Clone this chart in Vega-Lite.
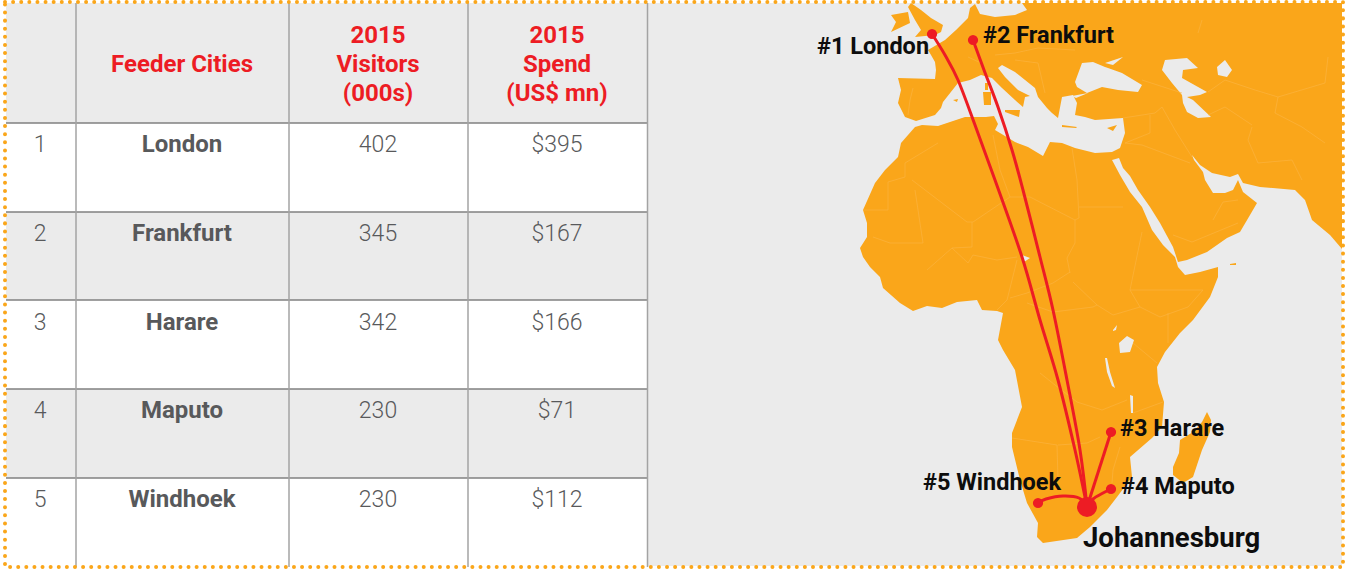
{
"$schema":"https://vega.github.io/schema/vega-lite/v6.json",
"width":1345,"height":569,"padding":0,"autosize":{"type":"none"},"background":"white",
"config":{"view":{"stroke":null},"text":{"font":"Roboto","lineBreak":"\n"}},
"datasets":{
"cells":[
{"row":0,"col":2,"label":"Feeder Cities"},{"row":0,"col":3,"label":"2015\nVisitors\n(000s)"},{"row":0,"col":4,"label":"2015\nSpend\n(US$ mn)"},
{"row":1,"col":1,"label":"1"},{"row":1,"col":2,"label":"London"},{"row":1,"col":3,"label":"402"},{"row":1,"col":4,"label":"$395"},
{"row":2,"col":1,"label":"2"},{"row":2,"col":2,"label":"Frankfurt"},{"row":2,"col":3,"label":"345"},{"row":2,"col":4,"label":"$167"},
{"row":3,"col":1,"label":"3"},{"row":3,"col":2,"label":"Harare"},{"row":3,"col":3,"label":"342"},{"row":3,"col":4,"label":"$166"},
{"row":4,"col":1,"label":"4"},{"row":4,"col":2,"label":"Maputo"},{"row":4,"col":3,"label":"230"},{"row":4,"col":4,"label":"$71"},
{"row":5,"col":1,"label":"5"},{"row":5,"col":2,"label":"Windhoek"},{"row":5,"col":3,"label":"230"},{"row":5,"col":4,"label":"$112"}
],
"routes":[
{"route":"London","seq":1,"lon":932,"lat":34},{"route":"London","seq":2,"lon":945,"lat":55},{"route":"London","seq":3,"lon":958,"lat":80},{"route":"London","seq":4,"lon":975,"lat":125},{"route":"London","seq":5,"lon":995,"lat":180},{"route":"London","seq":6,"lon":1022,"lat":257},{"route":"London","seq":7,"lon":1040,"lat":320},{"route":"London","seq":8,"lon":1058,"lat":380},{"route":"London","seq":9,"lon":1075,"lat":450},{"route":"London","seq":10,"lon":1087,"lat":507},
{"route":"Frankfurt","seq":1,"lon":973,"lat":40},{"route":"Frankfurt","seq":2,"lon":984,"lat":70},{"route":"Frankfurt","seq":3,"lon":998,"lat":107},{"route":"Frankfurt","seq":4,"lon":1012,"lat":150},{"route":"Frankfurt","seq":5,"lon":1023,"lat":190},{"route":"Frankfurt","seq":6,"lon":1040,"lat":257},{"route":"Frankfurt","seq":7,"lon":1053,"lat":310},{"route":"Frankfurt","seq":8,"lon":1067,"lat":380},{"route":"Frankfurt","seq":9,"lon":1080,"lat":450},{"route":"Frankfurt","seq":10,"lon":1087,"lat":507},
{"route":"Harare","seq":1,"lon":1111,"lat":432},{"route":"Harare","seq":2,"lon":1087,"lat":507},
{"route":"Maputo","seq":1,"lon":1111,"lat":489},{"route":"Maputo","seq":2,"lon":1103,"lat":493},{"route":"Maputo","seq":3,"lon":1093,"lat":499},{"route":"Maputo","seq":4,"lon":1087,"lat":507},
{"route":"Windhoek","seq":1,"lon":1038,"lat":503},{"route":"Windhoek","seq":2,"lon":1046,"lat":499},{"route":"Windhoek","seq":3,"lon":1063,"lat":496},{"route":"Windhoek","seq":4,"lon":1079,"lat":498},{"route":"Windhoek","seq":5,"lon":1087,"lat":507}
],
"cities":[
{"name":"London","lon":932,"lat":34,"hub":"no"},{"name":"Frankfurt","lon":973,"lat":40,"hub":"no"},{"name":"Harare","lon":1111,"lat":432,"hub":"no"},{"name":"Maputo","lon":1111,"lat":489,"hub":"no"},{"name":"Windhoek","lon":1038,"lat":503,"hub":"no"},{"name":"Johannesburg","lon":1087,"lat":507,"hub":"yes"}
],
"labels":[
{"label":"#1 London","lon":817,"lat":47},{"label":"#2 Frankfurt","lon":983,"lat":36},{"label":"#3 Harare","lon":1120,"lat":429},{"label":"#4 Maputo","lon":1121,"lat":487},{"label":"#5 Windhoek","lon":923,"lat":483}
]
},
"layer":[
{"data":{"values":[{"y0":3,"y1":123},{"y0":212,"y1":300},{"y0":389,"y1":478}]},
 "mark":{"type":"rect","fill":"#ebebeb"},
 "encoding":{"x":{"datum":6,"type":"quantitative","scale":{"domain":[0,1345]},"axis":null},"x2":{"datum":648},"y":{"field":"y0","type":"quantitative","scale":{"domain":[569,0]},"axis":null},"y2":{"field":"y1"}}},
{"data":{"values":[{"y0":3,"y1":566}]},
 "mark":{"type":"rect","fill":"#ebebeb"},
 "encoding":{"x":{"datum":648,"type":"quantitative","scale":{"domain":[0,1345]},"axis":null},"x2":{"datum":1342},"y":{"field":"y0","type":"quantitative","scale":{"domain":[569,0]},"axis":null},"y2":{"field":"y1"}}},
{"data":{"values":[{"y":123},{"y":212},{"y":300},{"y":389},{"y":478}]},
 "mark":{"type":"rule","stroke":"#808080","strokeWidth":1.5},
 "encoding":{"x":{"datum":6,"type":"quantitative","scale":{"domain":[0,1345]},"axis":null},"x2":{"datum":648},"y":{"field":"y","type":"quantitative","scale":{"domain":[569,0]},"axis":null}}},
{"data":{"values":[{"x":76},{"x":289},{"x":468},{"x":647.5}]},
 "mark":{"type":"rule","stroke":"#a3a3a3","strokeWidth":1.5},
 "encoding":{"x":{"field":"x","type":"quantitative","scale":{"domain":[0,1345]},"axis":null},"y":{"datum":3,"type":"quantitative","scale":{"domain":[569,0]},"axis":null},"y2":{"datum":567}}},
{"data":{"name":"land","values":[
{"type":"Feature","properties":{"kind":"land"},"geometry":{"type":"MultiPolygon","coordinates":[
[[[1342,3],[1342,249],[1330,235],[1312,220],[1305,200],[1295,190],[1260,187],[1243,183],[1238,174],[1230,177],[1212,173],[1200,165],[1192,155],[1194,160],[1203,172],[1205,180],[1213,193],[1225,193],[1233,190],[1238,180],[1243,192],[1257,203],[1250,215],[1240,232],[1227,238],[1207,252],[1187,260],[1178,262],[1173,247],[1160,223],[1150,207],[1138,190],[1130,176],[1123,168],[1119,158],[1112,160],[1120,175],[1130,192],[1142,207],[1152,230],[1163,245],[1175,257],[1178,267],[1185,275],[1200,272],[1218,267],[1218,277],[1210,297],[1193,320],[1180,333],[1165,352],[1157,367],[1158,383],[1164,402],[1162,427],[1152,438],[1130,457],[1132,477],[1117,497],[1107,510],[1090,527],[1077,538],[1043,543],[1037,537],[1038,523],[1027,503],[1020,480],[1012,447],[1012,433],[1022,407],[1015,370],[1003,350],[998,340],[1003,313],[997,311],[982,310],[977,300],[957,302],[942,308],[927,306],[913,311],[900,303],[883,288],[880,277],[870,267],[863,257],[860,248],[867,237],[867,223],[863,210],[875,183],[885,170],[898,157],[901,143],[915,127],[922,125],[938,126],[965,117],[986,117],[994,116],[998,124],[995,130],[1015,142],[1028,147],[1043,156],[1050,142],[1062,143],[1075,148],[1095,153],[1112,152],[1120,148],[1125,133],[1123,118],[1095,120],[1085,117],[1075,115],[1077,103],[1073,95],[1062,97],[1058,118],[1052,113],[1047,108],[1038,97],[1035,88],[1015,72],[1002,65],[998,68],[1005,77],[1018,90],[1030,96],[1025,97],[1023,107],[1015,100],[1002,88],[992,78],[981,75],[970,80],[958,83],[943,102],[941,108],[935,115],[916,121],[905,117],[898,103],[901,90],[898,78],[935,79],[936,70],[935,62],[931,55],[928,50],[945,40],[956,30],[968,18],[970,8],[975,4],[980,14],[995,17],[1015,15],[1027,10],[1022,3],[1342,3]]],
[[[908,7],[911,3],[921,10],[931,18],[943,25],[941,32],[935,35],[915,37],[921,30],[915,20],[908,7]]],
[[[891,15],[908,12],[910,23],[891,32],[896,22],[891,15]]],
[[[983,92],[991,92],[991,105],[984,105],[983,92]]],
[[[985,83],[988,83],[988,90],[985,90],[985,83]]],
[[[1005,110],[1020,110],[1019,117],[1005,112],[1005,110]]],
[[[1107,128],[1117,125],[1113,131],[1107,128]]],
[[[1062,125],[1077,127],[1076,128],[1062,127],[1062,125]]],
[[[953,100],[958,99],[957,102],[953,100]]],
[[[1207,412],[1211,420],[1210,432],[1202,450],[1193,477],[1183,483],[1173,475],[1173,467],[1179,453],[1180,440],[1193,432],[1202,422],[1207,412]]],
[[[1230,264],[1236,263],[1236,265],[1230,265],[1230,264]]]
]}},
{"type":"Feature","properties":{"kind":"water"},"geometry":{"type":"MultiPolygon","coordinates":[
[[[1075,82],[1082,63],[1093,62],[1105,67],[1108,68],[1122,73],[1142,85],[1138,92],[1118,90],[1102,87],[1087,93],[1077,87],[1075,82]]],
[[[1105,63],[1123,57],[1113,65],[1105,63]]],
[[[1072,96],[1088,93],[1076,98],[1072,96]]],
[[[1162,70],[1165,60],[1187,58],[1198,68],[1183,70],[1182,78],[1207,92],[1200,95],[1187,97],[1193,100],[1211,117],[1198,118],[1187,112],[1183,103],[1182,95],[1172,83],[1162,70]]],
[[[1217,67],[1225,60],[1232,70],[1227,77],[1218,75],[1217,67]]],
[[[1022,255],[1030,258],[1024,262],[1022,255]]],
[[[1119,343],[1127,336],[1134,340],[1130,352],[1120,353],[1119,343]]],
[[[1130,395],[1133,396],[1133,413],[1131,413],[1130,395]]],
[[[1105,358],[1107,372],[1112,386],[1115,388],[1110,372],[1107,358],[1105,358]]],
[[[1113,330],[1117,325],[1116,330],[1113,331],[1113,330]]]
]}}
]},
 "mark":{"type":"geoshape","stroke":null},
 "projection":{"type":"identity","scale":1,"translate":[0,0]},
 "encoding":{"color":{"field":"properties.kind","type":"nominal","legend":null,"scale":{"domain":["land","water"],"range":["#faa61a","#ebebeb"]}}}},
{"data":{"values":[
{"type":"Feature","properties":{},"geometry":{"type":"MultiLineString","coordinates":[
[[888,182],[888,210],[863,210]],[[915,190],[923,243],[890,243],[873,237]],[[912,180],[967,222]],[[967,222],[973,222],[1010,197]],[[1010,197],[1030,197],[1075,220]],[[1077,180],[1079,218],[1075,220],[1075,243],[1067,258],[1070,273]],[[1079,207],[1123,207]],[[972,222],[972,247],[952,248],[927,270]],[[952,248],[968,263],[973,255],[997,260],[1017,257]],[[1017,260],[1007,300],[997,310]],[[1010,298],[1027,293],[1053,283],[1070,272]],[[1073,282],[1097,305],[1113,315],[1140,307],[1130,290]],[[1130,290],[1203,290],[1188,307],[1160,317],[1140,307]],[[1027,303],[1053,312],[1093,307],[1097,305]],[[1133,343],[1157,363]],[[1168,313],[1168,343]],[[1142,232],[1130,290]],[[1012,438],[1057,445],[1058,480]],[[1058,445],[1087,443],[1100,437]],[[1040,373],[1055,385],[1077,402],[1102,410],[1127,400]],[[1133,413],[1163,402]],[[1120,447],[1113,470],[1112,483]],[[1142,80],[1182,93]],[[1123,118],[1155,113],[1162,107]],[[1150,115],[1150,133],[1125,143],[1142,145],[1190,163]],[[1162,107],[1175,130],[1192,157]],[[1252,127],[1248,140],[1258,163]],[[1258,163],[1292,160],[1302,180]],[[1208,115],[1225,107],[1252,125]],[[1208,92],[1225,80],[1255,90],[1278,97],[1325,83],[1328,57]],[[1198,33],[1202,20]],[[1278,97],[1275,113],[1302,127],[1325,143]],[[1173,235],[1192,242],[1238,223]],[[1213,220],[1223,202],[1238,200]],[[995,55],[1015,53],[1038,48],[1075,50]],[[1015,60],[1038,63],[1045,93]],[[913,88],[910,100],[908,115]],[[968,57],[981,63]],[[938,143],[905,163],[905,177],[888,182]],[[993,135],[1000,170],[1010,197]],[[1072,148],[1077,180]]
]}}
]},
 "mark":{"type":"geoshape","filled":false,"stroke":"#fbb544","strokeWidth":0.6},
 "projection":{"type":"identity","scale":1,"translate":[0,0]}},
{"data":{"name":"routes"},
 "mark":{"type":"line","stroke":"#ed1c24","strokeWidth":3,"interpolate":"cardinal"},
 "projection":{"type":"identity","scale":1,"translate":[0,0]},
 "encoding":{"longitude":{"field":"lon","type":"quantitative"},"latitude":{"field":"lat","type":"quantitative"},"detail":{"field":"route"},"order":{"field":"seq"}}},
{"data":{"name":"cities"},
 "mark":{"type":"circle","opacity":1,"color":"#ed1c24"},
 "projection":{"type":"identity","scale":1,"translate":[0,0]},
 "encoding":{"longitude":{"field":"lon","type":"quantitative"},"latitude":{"field":"lat","type":"quantitative"},"size":{"field":"hub","type":"nominal","legend":null,"scale":{"domain":["no","yes"],"range":[105,400]}}}},
{"data":{"name":"labels"},
 "mark":{"type":"text","align":"left","baseline":"middle","fontWeight":"bold","fontSize":23.5,"fill":"#0d0d0d"},
 "projection":{"type":"identity","scale":1,"translate":[0,0]},
 "encoding":{"longitude":{"field":"lon","type":"quantitative"},"latitude":{"field":"lat","type":"quantitative"},"text":{"field":"label"}}},
{"data":{"values":[{"label":"Johannesburg","lon":1083,"lat":539}]},
 "mark":{"type":"text","align":"left","baseline":"middle","fontWeight":"bold","fontSize":27.5,"fill":"#0d0d0d"},
 "projection":{"type":"identity","scale":1,"translate":[0,0]},
 "encoding":{"longitude":{"field":"lon","type":"quantitative"},"latitude":{"field":"lat","type":"quantitative"},"text":{"field":"label"}}},
{"data":{"name":"cells"},"transform":[{"filter":"datum.row==0 && datum.col==2"}],
 "mark":{"type":"text","align":"center","baseline":"middle","fontWeight":"bold","fontSize":24,"fill":"#ed1c24"},
 "encoding":{"x":{"field":"col","type":"quantitative","axis":null,"scale":{"domain":[1,2,3,4],"range":[40,182,378,557]}},"y":{"field":"row","type":"quantitative","axis":null,"scale":{"domain":[0,1,5],"range":[65,145,500]}},"text":{"field":"label"}}},
{"data":{"name":"cells"},"transform":[{"filter":"datum.row==0 && datum.col!=2"}],
 "mark":{"type":"text","align":"center","baseline":"middle","fontWeight":"bold","fontSize":24,"lineHeight":29,"dy":-29,"fill":"#ed1c24"},
 "encoding":{"x":{"field":"col","type":"quantitative","axis":null,"scale":{"domain":[1,2,3,4],"range":[40,182,378,557]}},"y":{"field":"row","type":"quantitative","axis":null,"scale":{"domain":[0,1,5],"range":[65,145,500]}},"text":{"field":"label"}}},
{"data":{"name":"cells"},"transform":[{"filter":"datum.row>0 && datum.col==2"}],
 "mark":{"type":"text","align":"center","baseline":"middle","fontWeight":"bold","fontSize":24,"fill":"#58595b"},
 "encoding":{"x":{"field":"col","type":"quantitative","axis":null,"scale":{"domain":[1,2,3,4],"range":[40,182,378,557]}},"y":{"field":"row","type":"quantitative","axis":null,"scale":{"domain":[0,1,5],"range":[65,145,500]}},"text":{"field":"label"}}},
{"data":{"name":"cells"},"transform":[{"filter":"datum.row>0 && datum.col!=2"}],
 "mark":{"type":"text","align":"center","baseline":"middle","fontWeight":300,"fontSize":23,"fill":"#58595b"},
 "encoding":{"x":{"field":"col","type":"quantitative","axis":null,"scale":{"domain":[1,2,3,4],"range":[40,182,378,557]}},"y":{"field":"row","type":"quantitative","axis":null,"scale":{"domain":[0,1,5],"range":[65,145,500]}},"text":{"field":"label"}}},
{"data":{"values":[{"frame":"border"}]},
 "mark":{"type":"rect","fill":null,"stroke":"#faa61a","strokeWidth":4,"strokeDash":[0.01,8.1],"strokeCap":"round"},
 "encoding":{"x":{"datum":5,"type":"quantitative","scale":{"domain":[0,1345]},"axis":null},"x2":{"datum":1343},"y":{"datum":2,"type":"quantitative","scale":{"domain":[569,0]},"axis":null},"y2":{"datum":567}}}
],
"resolve":{"scale":{"x":"independent","y":"independent"}}
}
